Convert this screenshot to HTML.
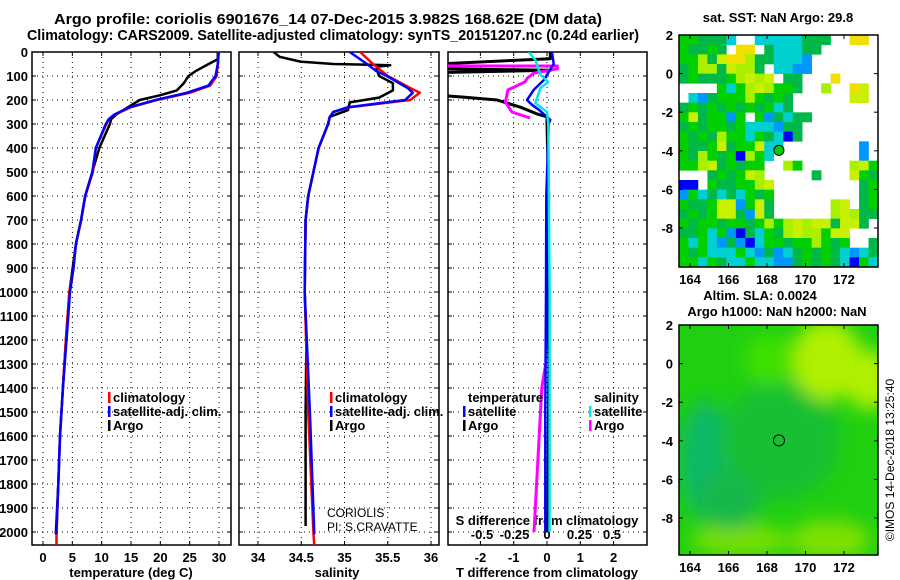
<!DOCTYPE html>
<html><head><meta charset="utf-8"><style>
html,body{margin:0;padding:0;background:#fff;}
svg{display:block;font-family:"Liberation Sans",sans-serif;}
.t{font-weight:bold;font-size:13px;fill:#000;}
</style></head><body>
<svg id="fig" width="900" height="580" viewBox="0 0 900 580">
<defs>
<clipPath id="c1"><rect x="32" y="52" width="199" height="493"/></clipPath>
<clipPath id="c2"><rect x="239" y="52" width="200" height="493"/></clipPath>
<clipPath id="c3"><rect x="448" y="52" width="199" height="493"/></clipPath>
<clipPath id="cm2"><rect x="679" y="325" width="199" height="230"/></clipPath>
<filter id="blur"><feGaussianBlur stdDeviation="9"/></filter>
</defs>
<text class="t" x="328" y="24" text-anchor="middle" textLength="548" lengthAdjust="spacingAndGlyphs" style="font-size:15px">Argo profile: coriolis 6901676_14 07-Dec-2015 3.982S 168.62E (DM data)</text>
<text class="t" x="333" y="40" text-anchor="middle" textLength="612" lengthAdjust="spacingAndGlyphs" style="font-size:15px">Climatology: CARS2009. Satellite-adjusted climatology: synTS_20151207.nc (0.24d earlier)</text>
<g id="g"></g>
</svg>
<script>
// depth grid ticks
const depthTicks=[0,100,200,300,400,500,600,700,800,900,1000,1100,1200,1300,1400,1500,1600,1700,1800,1900,2000];
const tempTicks=[0,5,10,15,20,25,30];
const salTicks=[34,34.5,35,35.5,36];
const tdTicks=[-2,-1,0,1,2];
const sdTicks=[-0.5,-0.25,0,0.25,0.5];
// temperature profiles
const tClimDepth=[0,50,100,140,170,200,230,260,280,300,400,500,600,700,800,900,1000,1200,1400,1600,1800,2000,2054];
const tClimVal=[30,29.8,29.6,28.5,25,19.4,15,12.3,11.2,10.8,9,8.5,7.2,6.5,5.6,5.2,4.5,3.9,3.4,2.9,2.6,2.3,2.3];
const tSatDepth=[0,50,100,140,170,200,230,260,280,300,400,500,600,700,800,900,1000,1200,1400,1600,1800,2000,2010];
const tSatVal=[29.9,29.8,29.4,28.2,24.5,19.2,14.8,12.2,11.2,10.7,9,8.4,7.2,6.5,5.6,5.2,4.6,4,3.4,2.9,2.6,2.3,2.3];
const tArgoDepth=[0,30,40,60,80,100,130,160,180,200,230,260,280,300,400,500,600,700,800,1000,1200,1400,1600,1800,2000,2010];
const tArgoVal=[29.8,29.8,29,27.5,26,24.8,24,22.8,20,16.5,14.5,12.5,11.6,11.4,9.6,8.4,7.2,6.5,5.6,4.5,3.9,3.4,2.9,2.6,2.2,2.2];
// salinity profiles
const sClimDepth=[0,50,100,150,170,200,230,250,270,300,400,500,600,700,1000,1500,2000,2054];
const sClimVal=[35.18,35.33,35.5,35.76,35.87,35.76,35.06,34.87,34.83,34.81,34.7,34.64,34.58,34.55,34.54,34.58,34.64,34.65];
const sSatDepth=[0,50,80,100,150,170,200,230,250,270,300,400,500,600,700,1000,1500,2000,2010];
const sSatVal=[35.06,35.26,35.37,35.49,35.73,35.79,35.7,35.04,34.87,34.83,34.81,34.7,34.64,34.58,34.55,34.54,34.6,34.65,34.65];
const sArgoDepth=[0,20,40,50,55,60,70,100,130,160,190,210,242,270,300,400,500,600,700,1000,1200,1500,1700,1975];
const sArgoVal=[34.18,34.25,34.49,34.87,35.53,35.4,35.37,35.4,35.56,35.56,35.4,35.06,35.04,34.83,34.81,34.7,34.64,34.58,34.55,34.54,34.56,34.55,34.55,34.55];
// differences
const tdArgoDepth=[0,28,50,70,76,86,180,187,200,230,258,270,300,600,1000,1300,1600,2000];
const tdArgoVal=[0.1,0.1,-3.3,-3.3,0.1,-3.3,-3.3,-2.6,-1.5,-0.8,-0.3,0,0,0.05,0.02,0.06,0.04,0.03];
const tdSatDepth=[0,50,117,158,200,220,240,283,300,600,1000,1500,2000];
const tdSatVal=[0.15,0.2,-0.1,-0.4,-0.6,-0.45,-0.25,0.1,0.05,-0.02,-0.03,-0.05,-0.05];
const sdArgoDepth=[58,58.5,70,88,108,125,158,208,250,275];
const sdArgoVal=[-0.8,0.08,0.08,-0.1,-0.15,-0.17,-0.3,-0.32,-0.27,-0.13];
const sdArgoDeepDepth=[1300,1400,1700,2000];
const sdArgoDeepVal=[-0.01,-0.04,-0.07,-0.1];
const sdSatDepth=[0,33,96,125,150,213,250,300,1000,2000];
const sdSatVal=[-0.14,-0.09,-0.05,0.01,-0.05,-0.09,0,0.01,0.02,0.02];
// SST map codes (0.5 deg cells, lat 2 -> -10)
const sstRows=[
"ggGGGcwwcccccGGGwwYYw","gGGgGwYYwGcccGGwwwwww","gglGyYYlGGcccbwwwwwww","GgllGyllGwccbbwwwwwww",
"GgGGGglylywGGwwwYwwww","wwwwgcglylggGwwlwwYyw","wcbGggglgGgGwwwwwwyyw","GgGgGgGgGgcGwwwwwwwww",
"gyGggbgwgbGcGGwwwwwww","GgGggGgcccbGGwwwwwwww","gGgGlggcgGcBGwwwwwwww","gGGgyGggyccwwwwwwwwbw",
"gGlgGgBlgcwwwwwwwwwbw","gglyGgGggwwlgwwwwwlyg","wwwGgGgylwwwwwGwwwygG","BBwgGGgglywwwwwwwwwGg",
"bgcGcGcgGgwwwwwwwwwGg","gGGgyybgyGwwwwwwlywGg","GgGgyyGbyGwwwwwwlylGG","gGggGggGglglylyyGyyGw",
"GGgcgbBGcgGlyllgyywww","gcgcbGbBcggGgglgGgwwG","gGgcccgcbGbcGgGgGcbcG","ggcgGccgccbbGgGgGcBgc"];
const argoLon=168.62, argoLat=-3.98;

const NS='http://www.w3.org/2000/svg';
const root=document.getElementById('g');
function el(tag,attrs,parent,text){const e=document.createElementNS(NS,tag);for(const k in attrs)e.setAttribute(k,attrs[k]);if(text!==undefined)e.textContent=text;(parent||root).appendChild(e);return e;}
const Y0=52,DY=0.24;
const yD=d=>Y0+d*DY;
const xT=v=>43+v*5.867;
const xS=v=>258+(v-34)*86.5;
const xTD=v=>547+v*33.3;
const xSD=v=>547+v*130;
const panels=[{x:32,w:199,clip:'c1',ticks:tempTicks,f:xT,name:'temperature-panel'},
{x:239,w:200,clip:'c2',ticks:salTicks,f:xS,name:'salinity-panel'},
{x:448,w:199,clip:'c3',ticks:tdTicks,f:xTD,name:'difference-panel'}];
panels.forEach(p=>{
 const gp=el('g',{});
 
 
 depthTicks.forEach(d=>{ if(d>0){const l=el('line',{x1:p.x,x2:p.x+p.w,y1:yD(d),y2:yD(d),stroke:'#000','stroke-width':1,'stroke-dasharray':'1 4'},gp);}
  el('line',{x1:p.x,x2:p.x+4,y1:yD(d),y2:yD(d),stroke:'#000'},gp);el('line',{x1:p.x+p.w-4,x2:p.x+p.w,y1:yD(d),y2:yD(d),stroke:'#000'},gp);});
 p.ticks.forEach(v=>{const x=p.f(v);const l=el('line',{x1:x,x2:x,y1:Y0,y2:545,stroke:'#000','stroke-dasharray':'1 4'},gp);
  el('line',{x1:x,x2:x,y1:541,y2:545,stroke:'#000'},gp);el('line',{x1:x,x2:x,y1:Y0,y2:Y0+4,stroke:'#000'},gp);});
 el('rect',{x:p.x,y:Y0,width:p.w,height:493,fill:'none',stroke:'#000','stroke-width':1.5},gp);
});
depthTicks.forEach(d=>{const t=el('text',{class:'t',x:28,y:yD(d)+5,'text-anchor':'end'},root,String(d));});
function xlabels(ticks,f,y,name){ticks.forEach(v=>{const t=el('text',{class:'t',x:f(v),y:y,'text-anchor':'middle'},root,String(v));});}
xlabels(tempTicks,xT,562,'temperature-tick-label');
xlabels(salTicks,xS,562,'salinity-tick-label');
xlabels(tdTicks,xTD,562,'t-difference-tick-label');
xlabels(sdTicks,xSD,539,'s-difference-tick-label');
[['temperature (deg C)',131,'temperature-axis-title'],['salinity',337,'salinity-axis-title'],['T difference from climatology',547,'t-difference-axis-title']].forEach(a=>{const t=el('text',{class:'t',x:a[1],y:577,'text-anchor':'middle'},root,a[0]);});
const sdt=el('text',{class:'t',x:547,y:525,'text-anchor':'middle'},root,'S difference from climatology');



function line(depths,vals,f,color,clip,name,w){
 const pts=depths.map((d,i)=>f(vals[i]).toFixed(1)+','+yD(d).toFixed(1)).join(' ');
 const pl=el('polyline',{points:pts,fill:'none',stroke:color,'stroke-width':w||2.5,'clip-path':'url(#'+clip+')','stroke-linejoin':'round'});
 
 
}
line(tArgoDepth,tArgoVal,xT,'#000','c1','temperature-argo-line');
line(tClimDepth,tClimVal,xT,'#ff0000','c1','temperature-climatology-line');
line(tSatDepth,tSatVal,xT,'#0000ff','c1','temperature-satellite-line');
line(sArgoDepth,sArgoVal,xS,'#000','c2','salinity-argo-line');
line(sClimDepth,sClimVal,xS,'#ff0000','c2','salinity-climatology-line');
line(sSatDepth,sSatVal,xS,'#0000ff','c2','salinity-satellite-line');
line(tdArgoDepth,tdArgoVal,xTD,'#000','c3','t-difference-argo-line',3);
line(sdArgoDepth,sdArgoVal,xSD,'#ff00ff','c3','s-difference-argo-line',3);
line(sdArgoDeepDepth,sdArgoDeepVal,xSD,'#ff00ff','c3','s-difference-argo-deep-line',3);
line(tdSatDepth,tdSatVal,xTD,'#0000ff','c3','t-difference-satellite-line');
line(sdSatDepth,sdSatVal,xSD,'#00e8e8','c3','s-difference-satellite-line');

function legend(x,y,color,label,name){const g=el('g',{});
 el('rect',{x:x-5,y:y-10,width:2.5,height:11,fill:color},g);el('text',{class:'t',x:x,y:y},g,label);}
legend(113,402,'#ff0000','climatology','legend-temp-climatology');
legend(113,416,'#0000ff','satellite-adj. clim.','legend-temp-satellite');
legend(113,430,'#000','Argo','legend-temp-argo');
legend(335,402,'#ff0000','climatology','legend-sal-climatology');
legend(335,416,'#0000ff','satellite-adj. clim.','legend-sal-satellite');
legend(335,430,'#000','Argo','legend-sal-argo');
const lt=el('text',{class:'t',x:468,y:402},root,'temperature');
legend(468,416,'#0000ff','satellite','legend-td-satellite');
legend(468,430,'#000','Argo','legend-td-argo');
const ls=el('text',{class:'t',x:594,y:402},root,'salinity');
legend(594,416,'#00e8e8','satellite','legend-sd-satellite');
legend(594,430,'#ff00ff','Argo','legend-sd-argo');
const c1=el('text',{x:327,y:517,'font-size':'12'},root,'CORIOLIS');
const c2=el('text',{x:327,y:531,'font-size':'12'},root,'PI: S.CRAVATTE');

// maps
const MX=679,MW=199;
const lonX=l=>690+(l-164)*19.25;
const colors={w:'#ffffff',g:'#00d000',G:'#00b848',l:'#a8f000',y:'#c8f000',Y:'#f0e000',c:'#00d0d0',b:'#0098ff',B:'#0000ff'};
function mapAxes(top,y2,bottom,name){
 const latY=la=>top+(2-la)*19.3;
 [2,0,-2,-4,-6,-8].forEach(la=>{const t=el('text',{class:'t',x:673,y:latY(la)+5,'text-anchor':'end'},root,String(la));
  el('line',{x1:MX,x2:MX+4,y1:latY(la),y2:latY(la),stroke:'#000'});el('line',{x1:MX+MW-4,x2:MX+MW,y1:latY(la),y2:latY(la),stroke:'#000'});});
 [164,166,168,170,172].forEach(lo=>{const t=el('text',{class:'t',x:lonX(lo),y:bottom+17,'text-anchor':'middle'},root,String(lo));
  el('line',{x1:lonX(lo),x2:lonX(lo),y1:bottom-4,y2:bottom,stroke:'#000'});el('line',{x1:lonX(lo),x2:lonX(lo),y1:top,y2:top+4,stroke:'#000'});});
 const r=el('rect',{x:MX,y:top,width:MW,height:bottom-top,fill:'none',stroke:'#000','stroke-width':1.5});
 return latY;
}
const sg=el('g',{});
const cw=MW/sstRows[0].length,ch=(267-35)/sstRows.length;
sstRows.forEach((row,r)=>{for(let c=0;c<row.length;c++){const ch2=row[c];if(ch2==='w')continue;
 const cell=el('rect',{x:(MX+c*cw).toFixed(2),y:(35+r*ch).toFixed(2),width:(cw+0.3).toFixed(2),height:(ch+0.3).toFixed(2),fill:colors[ch2]},sg);
 }});
const latY1=mapAxes(35,0,267,'sst-map');
const m1=el('circle',{cx:lonX(argoLon),cy:latY1(argoLat),r:5,fill:'#00d000',stroke:'#000','stroke-width':1});

const st=el('text',{class:'t',x:778,y:22,'text-anchor':'middle'},root,'sat. SST: NaN Argo: 29.8');

// SLA map
const ag=el('g',{'clip-path':'url(#cm2)'});
el('rect',{x:MX,y:325,width:MW,height:230,fill:'#20d010'},ag);
const bg=el('g',{filter:'url(#blur)'},ag);
[[705,460,25,60,'#10b868'],[780,440,60,60,'#18c030'],[740,540,50,15,'#7ce000'],[830,540,40,20,'#80e000'],[827,360,35,40,'#b0f000'],[870,380,25,30,'#b0f000'],[770,360,25,25,'#40e000'],[730,500,30,30,'#18b848']].forEach(e=>el('ellipse',{cx:e[0],cy:e[1],rx:e[2],ry:e[3],fill:e[4]},bg));
const latY2=mapAxes(325,0,555,'sla-map');
const m2=el('circle',{cx:lonX(argoLon),cy:latY2(argoLat),r:5.5,fill:'none',stroke:'#000','stroke-width':1});

const a1=el('text',{class:'t',x:760,y:300,'text-anchor':'middle'},root,'Altim. SLA: 0.0024');
const a2=el('text',{class:'t',x:777,y:316,'text-anchor':'middle'},root,'Argo h1000: NaN h2000: NaN');
const cp=el('text',{x:0,y:0,'font-size':'12',transform:'translate(894,460) rotate(-90)','text-anchor':'middle'},root,'©IMOS 14-Dec-2018 13:25:40');

</script>
</body></html>
